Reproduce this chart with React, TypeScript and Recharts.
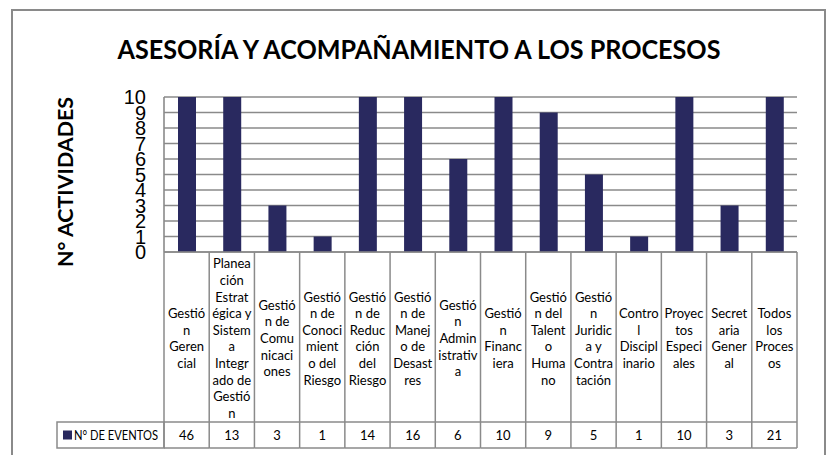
import React from 'react';
import { BarChart, Bar, XAxis, YAxis, CartesianGrid } from 'recharts';

const categories = [
  'Gestión Gerencial',
  'Planeación Estratégica y Sistema Integrado de Gestión',
  'Gestión de Comunicaciones',
  'Gestión de Conocimiento del Riesgo',
  'Gestión de Reducción del Riesgo',
  'Gestión de Manejo de Desastres',
  'Gestión Administrativa',
  'Gestión Financiera',
  'Gestión del Talento Humano',
  'Gestión Juridica y Contratación',
  'Control Disciplinario',
  'Proyectos Especiales',
  'Secretaria General',
  'Todos los Procesos',
];

const tickLabelLines = [
  ['Gestió', 'n', 'Geren', 'cial'],
  ['Planea', 'ción', 'Estrat', 'égica y', 'Sistem', 'a', 'Integr', 'ado de', 'Gestió', 'n'],
  ['Gestió', 'n de', 'Comu', 'nicaci', 'ones'],
  ['Gestió', 'n de', 'Conoci', 'mient', 'o del', 'Riesgo'],
  ['Gestió', 'n de', 'Reduc', 'ción', 'del', 'Riesgo'],
  ['Gestió', 'n de', 'Manej', 'o de', 'Desast', 'res'],
  ['Gestió', 'n', 'Admin', 'istrativ', 'a'],
  ['Gestió', 'n', 'Financ', 'iera'],
  ['Gestió', 'n del', 'Talent', 'o', 'Huma', 'no'],
  ['Gestió', 'n', 'Juridic', 'a y', 'Contra', 'tación'],
  ['Contro', 'l', 'Discipl', 'inario'],
  ['Proyec', 'tos', 'Especi', 'ales'],
  ['Secret', 'aria', 'Gener', 'al'],
  ['Todos', 'los', 'Proces', 'os'],
];

const eventos = [46, 13, 3, 1, 14, 16, 6, 10, 9, 5, 1, 10, 3, 21];

const yTicks = [0, 1, 2, 3, 4, 5, 6, 7, 8, 9, 10];

const seriesName = 'N° DE EVENTOS';
const chartTitle = 'ASESORÍA Y ACOMPAÑAMIENTO A LOS PROCESOS';
const yTitle = 'N° ACTIVIDADES';

const data = categories.map((c, i) => ({ name: c, idx: i, value: eventos[i] }));

const W = 828;
const H = 455;
const M = { top: 97, right: 31, bottom: 3, left: 104 };
const Y_AXIS_W = 60;
const X_AXIS_H = 200;
const BAR_COLOR = '#29295f';
const GRID = '#8a8a8a';
const FONT = 'Lato, "Noto Sans", sans-serif';
const LABEL_ROW_H = 170;
const VALUE_ROW_H = 26;
const LEGEND_CELL_W = 107;
const TABLE_FS = 13;

const fallbackHalf = (W - M.left - Y_AXIS_W - M.right) / categories.length / 2;

const TableTick = (props: any) => {
  const { x, y, payload, index } = props;
  const half = payload && payload.offset > 0 ? payload.offset : fallbackHalf;
  const lines = tickLabelLines[index] || [];
  const lh = 16.6;
  const cy = y + LABEL_ROW_H / 2 + 1;
  const startY = cy - ((lines.length - 1) * lh) / 2;
  const left = x - half;
  const right = x + half;
  const bottom = y + LABEL_ROW_H + VALUE_ROW_H;
  return (
    <g>
      {lines.map((ln: string, k: number) => (
        <text
          key={k}
          x={x}
          y={startY + k * lh}
          textAnchor="middle"
          dominantBaseline="central"
          fontFamily={FONT}
          fontSize={TABLE_FS}
          fill="#000"
        >
          {ln}
        </text>
      ))}
      <text
        x={x}
        y={y + LABEL_ROW_H + VALUE_ROW_H / 2}
        textAnchor="middle"
        dominantBaseline="central"
        fontFamily={FONT}
        fontSize={TABLE_FS}
        fill="#000"
      >
        {eventos[index]}
      </text>
      <line x1={right} y1={y} x2={right} y2={bottom} stroke={GRID} strokeWidth={1.5} />
      {index === 0 && (
        <line x1={left} y1={y} x2={left} y2={bottom} stroke={GRID} strokeWidth={1.5} />
      )}
      <line x1={left} y1={y + LABEL_ROW_H} x2={right} y2={y + LABEL_ROW_H} stroke={GRID} strokeWidth={1.5} />
      <line x1={left} y1={bottom} x2={right} y2={bottom} stroke={GRID} strokeWidth={1.5} />
      {index === 0 && (
        <g>
          <rect
            x={left - LEGEND_CELL_W}
            y={y + LABEL_ROW_H}
            width={LEGEND_CELL_W}
            height={VALUE_ROW_H}
            fill="none"
            stroke={GRID}
            strokeWidth={1.5}
          />
          <rect
            x={left - LEGEND_CELL_W + 6}
            y={y + LABEL_ROW_H + VALUE_ROW_H / 2 - 4.5}
            width={9}
            height={9}
            fill={BAR_COLOR}
          />
          <text
            x={left - LEGEND_CELL_W + 17}
            y={y + LABEL_ROW_H + VALUE_ROW_H / 2}
            dominantBaseline="central"
            fontFamily={FONT}
            fontSize={TABLE_FS}
            textLength={84}
            lengthAdjust="spacingAndGlyphs"
            fill="#000"
          >
            {seriesName}
          </text>
        </g>
      )}
    </g>
  );
};

const YTick = (props: any) => {
  const { x, y, payload } = props;
  return (
    <text
      x={x}
      y={y}
      textAnchor="end"
      dominantBaseline="central"
      fontFamily='"Liberation Sans", Arial, sans-serif'
      fontSize={20}
      fill="#000"
    >
      {payload.value}
    </text>
  );
};

export default function App() {
  return (
    <div style={{ position: 'absolute', left: 0, top: 0, width: W, height: H, background: '#fff' }}>
      <BarChart width={W} height={H} data={data} margin={M}>
        <CartesianGrid horizontal vertical={false} stroke={GRID} strokeWidth={1.6} strokeOpacity={1} />
        <XAxis
          dataKey="name"
          interval={0}
          height={X_AXIS_H}
          tickLine={false}
          tickSize={0}
          tickMargin={0}
          axisLine={{ stroke: GRID, strokeWidth: 1.6 }}
          tick={<TableTick />}
        />
        <YAxis
          width={Y_AXIS_W}
          domain={[0, 10]}
          ticks={yTicks}
          interval={0}
          allowDataOverflow
          tickLine={false}
          tickSize={0}
          tickMargin={18}
          axisLine={{ stroke: GRID, strokeWidth: 1.6 }}
          tick={<YTick />}
        />
        <Bar dataKey="value" fill={BAR_COLOR} barSize={18} isAnimationActive={false} />
      </BarChart>
      <svg
        width={W}
        height={H}
        style={{ position: 'absolute', left: 0, top: 0, pointerEvents: 'none' }}
      >
        <rect x={12} y={10} width={813} height={460} fill="none" stroke="#8a8a8a" strokeWidth={2} />
        <text
          x={419}
          y={48}
          textAnchor="middle"
          dominantBaseline="central"
          fontFamily={FONT}
          fontWeight="bold"
          fontSize={27}
          textLength={603}
          lengthAdjust="spacingAndGlyphs"
          fill="#000"
        >
          {chartTitle}
        </text>
        <text
          x={0}
          y={0}
          transform="translate(65,182) rotate(-90)"
          textAnchor="middle"
          dominantBaseline="central"
          fontFamily={FONT}
          fontWeight="bold"
          fontSize={20}
          textLength={170}
          lengthAdjust="spacingAndGlyphs"
          fill="#000"
        >
          {yTitle}
        </text>
      </svg>
    </div>
  );
}
